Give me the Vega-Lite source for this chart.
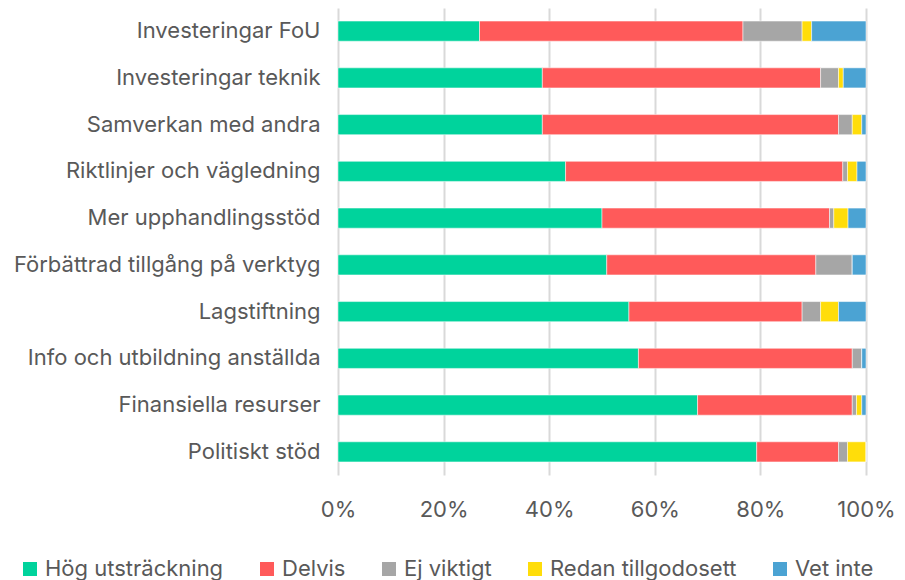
{
  "$schema": "https://vega.github.io/schema/vega-lite/v6.json",
  "width": 528,
  "height": 467,
  "autosize": {"type": "none"},
  "padding": {"left": 338, "top": 8, "right": 39, "bottom": 105},
  "background": "white",
  "config": {
    "view": {"stroke": null},
    "font": "Inter",
    "axis": {"labelFont": "Inter", "labelColor": "#595959", "labelFontSize": 22},
    "legend": {"labelFont": "Inter", "labelColor": "#595959", "labelFontSize": 22}
  },
  "data": {
    "values": [
      {"kategori": "Investeringar FoU", "svar": "Hög utsträckning", "andel": 26.8},
      {"kategori": "Investeringar FoU", "svar": "Delvis", "andel": 49.9},
      {"kategori": "Investeringar FoU", "svar": "Ej viktigt", "andel": 11.2},
      {"kategori": "Investeringar FoU", "svar": "Redan tillgodosett", "andel": 1.8},
      {"kategori": "Investeringar FoU", "svar": "Vet inte", "andel": 10.3},
      {"kategori": "Investeringar teknik", "svar": "Hög utsträckning", "andel": 38.7},
      {"kategori": "Investeringar teknik", "svar": "Delvis", "andel": 52.7},
      {"kategori": "Investeringar teknik", "svar": "Ej viktigt", "andel": 3.4},
      {"kategori": "Investeringar teknik", "svar": "Redan tillgodosett", "andel": 0.9},
      {"kategori": "Investeringar teknik", "svar": "Vet inte", "andel": 4.3},
      {"kategori": "Samverkan med andra ", "svar": "Hög utsträckning", "andel": 38.7},
      {"kategori": "Samverkan med andra ", "svar": "Delvis", "andel": 56.1},
      {"kategori": "Samverkan med andra ", "svar": "Ej viktigt", "andel": 2.6},
      {"kategori": "Samverkan med andra ", "svar": "Redan tillgodosett", "andel": 1.8},
      {"kategori": "Samverkan med andra ", "svar": "Vet inte", "andel": 0.8},
      {"kategori": "Riktlinjer och vägledning", "svar": "Hög utsträckning", "andel": 43.1},
      {"kategori": "Riktlinjer och vägledning", "svar": "Delvis", "andel": 52.5},
      {"kategori": "Riktlinjer och vägledning", "svar": "Ej viktigt", "andel": 0.9},
      {"kategori": "Riktlinjer och vägledning", "svar": "Redan tillgodosett", "andel": 1.8},
      {"kategori": "Riktlinjer och vägledning", "svar": "Vet inte", "andel": 1.7},
      {"kategori": "Mer upphandlingsstöd ", "svar": "Hög utsträckning", "andel": 50.0},
      {"kategori": "Mer upphandlingsstöd ", "svar": "Delvis", "andel": 43.1},
      {"kategori": "Mer upphandlingsstöd ", "svar": "Ej viktigt", "andel": 0.8},
      {"kategori": "Mer upphandlingsstöd ", "svar": "Redan tillgodosett", "andel": 2.7},
      {"kategori": "Mer upphandlingsstöd ", "svar": "Vet inte", "andel": 3.4},
      {"kategori": "Förbättrad tillgång på verktyg", "svar": "Hög utsträckning", "andel": 50.9},
      {"kategori": "Förbättrad tillgång på verktyg", "svar": "Delvis", "andel": 39.6},
      {"kategori": "Förbättrad tillgång på verktyg", "svar": "Ej viktigt", "andel": 6.9},
      {"kategori": "Förbättrad tillgång på verktyg", "svar": "Redan tillgodosett", "andel": 0},
      {"kategori": "Förbättrad tillgång på verktyg", "svar": "Vet inte", "andel": 2.6},
      {"kategori": "Lagstiftning", "svar": "Hög utsträckning", "andel": 55.1},
      {"kategori": "Lagstiftning", "svar": "Delvis", "andel": 32.8},
      {"kategori": "Lagstiftning", "svar": "Ej viktigt", "andel": 3.5},
      {"kategori": "Lagstiftning", "svar": "Redan tillgodosett", "andel": 3.4},
      {"kategori": "Lagstiftning", "svar": "Vet inte", "andel": 5.2},
      {"kategori": "Info och utbildning anställda ", "svar": "Hög utsträckning", "andel": 56.9},
      {"kategori": "Info och utbildning anställda ", "svar": "Delvis", "andel": 40.5},
      {"kategori": "Info och utbildning anställda ", "svar": "Ej viktigt", "andel": 1.8},
      {"kategori": "Info och utbildning anställda ", "svar": "Redan tillgodosett", "andel": 0},
      {"kategori": "Info och utbildning anställda ", "svar": "Vet inte", "andel": 0.8},
      {"kategori": "Finansiella resurser ", "svar": "Hög utsträckning", "andel": 68.1},
      {"kategori": "Finansiella resurser ", "svar": "Delvis", "andel": 29.3},
      {"kategori": "Finansiella resurser ", "svar": "Ej viktigt", "andel": 0.8},
      {"kategori": "Finansiella resurser ", "svar": "Redan tillgodosett", "andel": 1.0},
      {"kategori": "Finansiella resurser ", "svar": "Vet inte", "andel": 0.8},
      {"kategori": "Politiskt stöd", "svar": "Hög utsträckning", "andel": 79.3},
      {"kategori": "Politiskt stöd", "svar": "Delvis", "andel": 15.5},
      {"kategori": "Politiskt stöd", "svar": "Ej viktigt", "andel": 1.7},
      {"kategori": "Politiskt stöd", "svar": "Redan tillgodosett", "andel": 3.5},
      {"kategori": "Politiskt stöd", "svar": "Vet inte", "andel": 0}
    ]
  },
  "transform": [
    {"calculate": "indexof(['Hög utsträckning', 'Delvis', 'Ej viktigt', 'Redan tillgodosett', 'Vet inte'], datum.svar)", "as": "ordning"}
  ],
  "mark": {"type": "bar", "stroke": "white", "strokeWidth": 0.5},
  "encoding": {
    "y": {
      "field": "kategori",
      "type": "nominal",
      "sort": ["Investeringar FoU", "Investeringar teknik", "Samverkan med andra ", "Riktlinjer och vägledning", "Mer upphandlingsstöd ", "Förbättrad tillgång på verktyg", "Lagstiftning", "Info och utbildning anställda ", "Finansiella resurser ", "Politiskt stöd"],
      "scale": {"paddingInner": 0.57, "paddingOuter": 0.28},
      "axis": {"title": null, "domain": false, "ticks": false, "labelPadding": 18, "labelLimit": 400}
    },
    "x": {
      "field": "andel",
      "type": "quantitative",
      "stack": "normalize",
      "scale": {"domain": [0, 1]},
      "axis": {"title": null, "format": ".0%", "values": [0, 0.2, 0.4, 0.6, 0.8, 1], "domain": false, "ticks": false, "grid": true, "gridColor": "#d9d9d9", "gridWidth": 2, "labelPadding": 24, "labelFlush": false}
    },
    "order": {"field": "ordning", "type": "quantitative", "sort": "ascending"},
    "color": {
      "field": "svar",
      "type": "nominal",
      "sort": ["Hög utsträckning", "Delvis", "Ej viktigt", "Redan tillgodosett", "Vet inte"],
      "scale": {
        "domain": ["Hög utsträckning", "Delvis", "Ej viktigt", "Redan tillgodosett", "Vet inte"],
        "range": ["#00D39C", "#FF5A5A", "#A6A6A6", "#FFDD0A", "#4BA3D3"]
      },
      "legend": {
        "title": null,
        "orient": "none",
        "direction": "horizontal",
        "legendX": -319,
        "legendY": 550,
        "symbolType": "square",
        "symbolSize": 196,
        "symbolStrokeWidth": 0,
        "labelOffset": 4,
        "labelLimit": 400,
        "columnPadding": 32,
        "padding": 0
      }
    }
  }
}
